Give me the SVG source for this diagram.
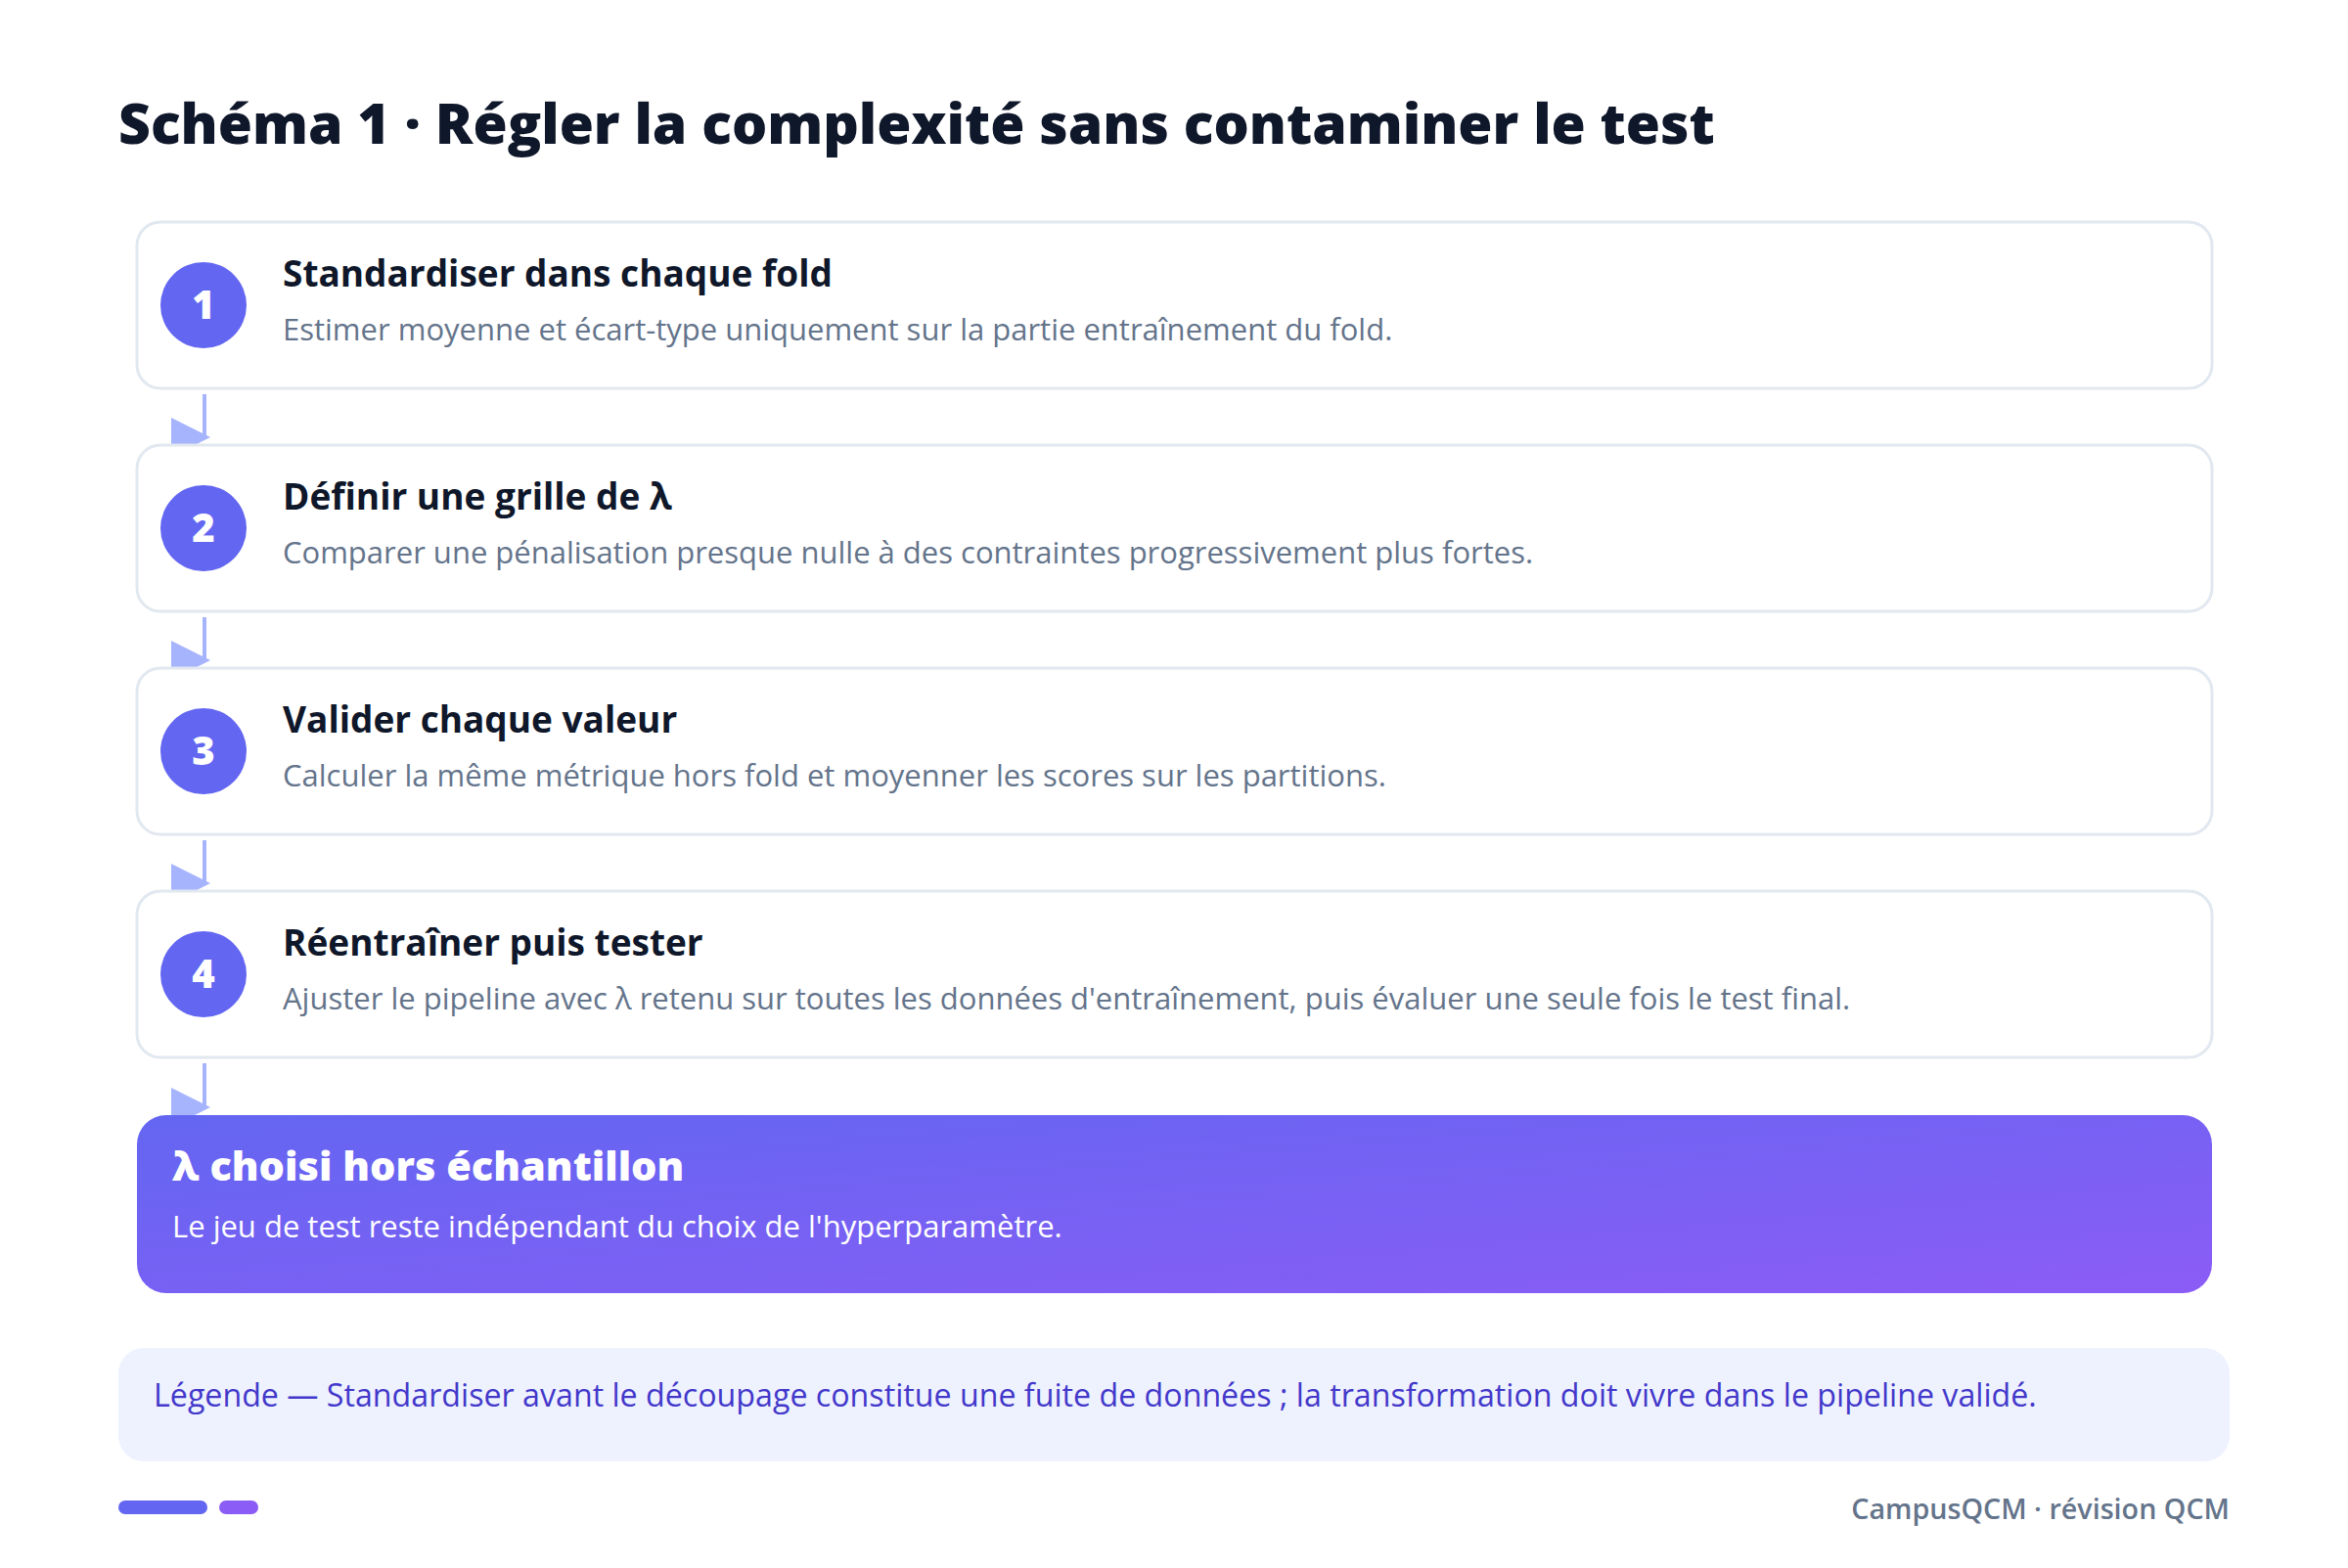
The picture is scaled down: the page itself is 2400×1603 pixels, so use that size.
<svg xmlns="http://www.w3.org/2000/svg" width="2400" height="1603" viewBox="0 0 2400 1603">
<defs>
<linearGradient id="g" x1="0" y1="0" x2="1" y2="1">
<stop offset="0" stop-color="#6366f1"/>
<stop offset="1" stop-color="#8b5cf6"/>
</linearGradient>
<marker id="ah" viewBox="0 0 10 10" refX="8.5" refY="5" markerWidth="40" markerHeight="42" markerUnits="userSpaceOnUse" orient="0">
<path d="M0,0 L10,5 L0,10 z" fill="#a5b4fc"/>
</marker>
<style>
.card{fill:#ffffff;stroke:#e2e8f0;stroke-width:3}
.num{fill:#6366f1}
.numt{font-family:"Open Sans","Noto Sans",sans-serif;font-weight:800;font-size:40px;fill:#ffffff;text-anchor:middle}
.t{font-family:"Open Sans","Noto Sans",sans-serif;font-weight:700;font-size:37px;fill:#0f172a}
.s{font-family:"Open Sans","Noto Sans",sans-serif;font-weight:400;font-size:31px;fill:#64748b}
.conn{stroke:#a5b4fc;stroke-width:4;fill:none}
</style>
</defs>
<rect width="2400" height="1603" fill="#ffffff"/>
<text x="121" y="147" font-family="'Open Sans','Noto Sans',sans-serif" font-weight="800" font-size="57" fill="#0f172a">Schéma 1 · Régler la complexité sans contaminer le test</text>
<g id="connectors">
<line class="conn" x1="209" y1="403" x2="209" y2="447" marker-end="url(#ah)"/>
<line class="conn" x1="209" y1="631" x2="209" y2="675" marker-end="url(#ah)"/>
<line class="conn" x1="209" y1="859" x2="209" y2="903" marker-end="url(#ah)"/>
<line class="conn" x1="209" y1="1087" x2="209" y2="1132" marker-end="url(#ah)"/>
</g>
<g id="step1">
<rect class="card" x="140" y="227" width="2121" height="170" rx="24"/>
<circle class="num" cx="208" cy="312" r="44"/>
<text class="numt" x="208" y="326">1</text>
<text class="t" x="289" y="293">Standardiser dans chaque fold</text>
<text class="s" x="289" y="348">Estimer moyenne et écart-type uniquement sur la partie entraînement du fold.</text>
</g>
<g id="step2">
<rect class="card" x="140" y="455" width="2121" height="170" rx="24"/>
<circle class="num" cx="208" cy="540" r="44"/>
<text class="numt" x="208" y="554">2</text>
<text class="t" x="289" y="521">Définir une grille de λ</text>
<text class="s" x="289" y="576">Comparer une pénalisation presque nulle à des contraintes progressivement plus fortes.</text>
</g>
<g id="step3">
<rect class="card" x="140" y="683" width="2121" height="170" rx="24"/>
<circle class="num" cx="208" cy="768" r="44"/>
<text class="numt" x="208" y="782">3</text>
<text class="t" x="289" y="749">Valider chaque valeur</text>
<text class="s" x="289" y="804">Calculer la même métrique hors fold et moyenner les scores sur les partitions.</text>
</g>
<g id="step4">
<rect class="card" x="140" y="911" width="2121" height="170" rx="24"/>
<circle class="num" cx="208" cy="996" r="44"/>
<text class="numt" x="208" y="1010">4</text>
<text class="t" x="289" y="977">Réentraîner puis tester</text>
<text class="s" x="289" y="1032">Ajuster le pipeline avec λ retenu sur toutes les données d'entraînement, puis évaluer une seule fois le test final.</text>
</g>
<g id="result">
<rect x="140" y="1140" width="2121" height="182" rx="30" fill="url(#g)"/>
<text x="176" y="1207" font-family="'Open Sans','Noto Sans',sans-serif" font-weight="800" font-size="41.5" fill="#ffffff">λ choisi hors échantillon</text>
<text x="176" y="1265" font-family="'Open Sans','Noto Sans',sans-serif" font-size="31" fill="#ffffff">Le jeu de test reste indépendant du choix de l'hyperparamètre.</text>
</g>
<g id="legend">
<rect x="121" y="1378" width="2158" height="116" rx="26" fill="#eef2ff"/>
<text x="157" y="1438" font-family="'Open Sans','Noto Sans',sans-serif" font-size="32.2" fill="#4338ca">Légende — Standardiser avant le découpage constitue une fuite de données ; la transformation doit vivre dans le pipeline validé.</text>
</g>
<g id="footer">
<rect x="121" y="1534" width="91" height="14" rx="7" fill="#6366f1"/>
<rect x="224" y="1534" width="40" height="14" rx="7" fill="#8b5cf6"/>
<text x="2279" y="1553" text-anchor="end" font-family="'Open Sans','Noto Sans',sans-serif" font-weight="600" font-size="28.7" fill="#64748b">CampusQCM · révision QCM</text>
</g>
</svg>
